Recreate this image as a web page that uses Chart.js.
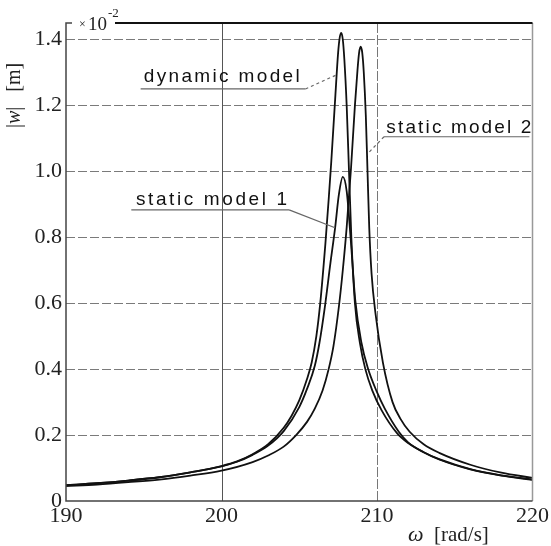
<!DOCTYPE html>
<html>
<head>
<title>Resonance curves</title>
<script src="https://cdn.jsdelivr.net/npm/chart.js"></script>
<style>
  body { margin: 0; background: #fff; }
</style>
</head>
<body>
<canvas id="ampChart" width="551" height="546"></canvas>
<script>
// omega in rad/s, |w| in units of 1e-2 m
const dynOmega = [190, 192, 194, 196, 198, 200, 201, 202, 203, 204, 204.5, 205, 205.5, 205.8, 206.1, 206.35, 206.68, 206.9, 207.06, 207.31, 207.5, 207.6, 207.7, 207.8, 207.9, 208.05, 208.2, 208.35, 208.58, 208.9, 209.25, 209.7, 210.3, 211.3, 212, 213, 214, 216, 218, 220];
const dynW = [0.048, 0.054, 0.062, 0.072, 0.087, 0.106, 0.12, 0.142, 0.172, 0.222, 0.258, 0.305, 0.37, 0.42, 0.5, 0.6, 0.78, 0.92, 1.03, 1.22, 1.36, 1.405, 1.42, 1.4, 1.34, 1.2, 1.0, 0.8, 0.6, 0.48, 0.4, 0.335, 0.275, 0.205, 0.176, 0.148, 0.127, 0.097, 0.078, 0.065];

const s1Omega = [190, 192, 194, 196, 198, 200, 201, 202, 203, 204, 205, 205.5, 206, 206.3, 206.65, 207, 207.31, 207.55, 207.8, 208.05, 208.3, 208.6, 209, 209.4, 210, 210.5, 211.4, 212, 213, 214, 216, 218, 220];
const s1W = [0.048, 0.054, 0.062, 0.072, 0.087, 0.105, 0.119, 0.14, 0.168, 0.212, 0.285, 0.34, 0.41, 0.48, 0.59, 0.72, 0.83, 0.93, 0.983, 0.94, 0.8, 0.61, 0.48, 0.405, 0.33, 0.28, 0.21, 0.178, 0.148, 0.126, 0.096, 0.077, 0.064];

const s2Omega = [190, 192, 194, 196, 198, 200, 202, 203, 204, 204.8, 205.5, 206, 206.5, 206.89, 207.2, 207.55, 207.8, 208.05, 208.33, 208.58, 208.75, 208.85, 208.95, 209.05, 209.15, 209.28, 209.39, 209.5, 209.65, 209.9, 210.38, 211, 211.5, 212.1, 213, 214, 216, 218, 220];
const s2W = [0.045, 0.05, 0.057, 0.065, 0.077, 0.092, 0.118, 0.138, 0.165, 0.2, 0.24, 0.28, 0.335, 0.4, 0.47, 0.59, 0.7, 0.83, 1.01, 1.2, 1.31, 1.36, 1.378, 1.36, 1.3, 1.17, 1.0, 0.83, 0.69, 0.57, 0.42, 0.3, 0.25, 0.21, 0.172, 0.146, 0.11, 0.086, 0.07];

const xTicks = [190, 200, 210, 220];
const yTicks = [0, 0.2, 0.4, 0.6, 0.8, 1.0, 1.2, 1.4];

// labels with their underline and leader line, in data coordinates
const notes = [
  { text: 'dynamic model', at: [195.0, 1.272], width: 156, under: [194.8, 205.4, 1.25], lead: [207.42, 1.293], dash: [3, 3] },
  { text: 'static model 2', at: [210.6, 1.117], width: 145, under: [210.45, 219.8, 1.105], lead: [209.45, 1.056], dash: [3, 3] },
  { text: 'static model 1', at: [194.5, 0.898], width: 151, under: [194.2, 204.35, 0.883], lead: [207.3, 0.829], dash: [] }
];

const pts = (xs, ys) => xs.map((v, i) => ({ x: v, y: ys[i] }));

function drawParts(ctx, parts, x, y) {
  let cx = x;
  parts.forEach(([t, f]) => {
    ctx.font = f;
    ctx.fillText(t, cx, y);
    cx += ctx.measureText(t).width;
  });
}

const decor = {
  id: 'decor',
  beforeDatasetsDraw(chart) {
    const { ctx, chartArea: a, scales: { x, y } } = chart;
    ctx.save();
    ctx.lineWidth = 1;
    // horizontal grid
    ctx.strokeStyle = '#7a7a7a';
    ctx.setLineDash([9, 3]);
    yTicks.forEach(v => {
      if (v === 0) return;
      const py = Math.round(y.getPixelForValue(v)) + 0.5;
      ctx.beginPath(); ctx.moveTo(a.left, py); ctx.lineTo(a.right, py); ctx.stroke();
    });
    // vertical grid
    xTicks.forEach(v => {
      if (v === 190 || v === 220) return;
      const px = Math.round(x.getPixelForValue(v)) + 0.5;
      ctx.strokeStyle = v === 200 ? '#555' : '#777';
      ctx.setLineDash(v === 200 ? [] : [10, 2]);
      ctx.beginPath(); ctx.moveTo(px, a.top); ctx.lineTo(px, a.bottom); ctx.stroke();
    });
    ctx.restore();
  },
  afterDatasetsDraw(chart) {
    const { ctx, chartArea: a, scales: { x, y } } = chart;
    ctx.save();
    // frame
    ctx.setLineDash([]);
    ctx.strokeStyle = '#999'; ctx.lineWidth = 1.5;
    ctx.beginPath(); ctx.moveTo(a.right, a.top); ctx.lineTo(a.right, a.bottom); ctx.stroke();
    ctx.strokeStyle = '#444';
    ctx.beginPath(); ctx.moveTo(a.left + 6, a.top); ctx.lineTo(a.left, a.top); ctx.lineTo(a.left, a.bottom); ctx.lineTo(a.right, a.bottom); ctx.stroke();
    ctx.strokeStyle = '#111'; ctx.lineWidth = 2;
    ctx.beginPath(); ctx.moveTo(a.left + 49, a.top); ctx.lineTo(a.right, a.top); ctx.stroke();

    // multiplier
    ctx.fillStyle = '#222';
    ctx.textAlign = 'left';
    ctx.textBaseline = 'alphabetic';
    ctx.font = '12px "Liberation Serif"';
    ctx.fillText('\u00d7', a.left + 13, a.top + 5);
    ctx.font = '19px "Liberation Serif"';
    ctx.fillText('10', a.left + 22, a.top + 7);
    ctx.font = '13px "Liberation Serif"';
    ctx.fillText('-2', a.left + 42, a.top - 6);

    // notes
    notes.forEach(n => {
      ctx.font = '19px "Liberation Sans"';
      ctx.letterSpacing = '0px';
      const w0 = ctx.measureText(n.text).width;
      ctx.letterSpacing = ((n.width - w0) / (n.text.length - 1)).toFixed(2) + 'px';
      ctx.fillStyle = '#111';
      ctx.fillText(n.text, x.getPixelForValue(n.at[0]), y.getPixelForValue(n.at[1]));
      ctx.letterSpacing = '0px';
      const uy = y.getPixelForValue(n.under[2]);
      const ux0 = x.getPixelForValue(n.under[0]);
      const ux1 = x.getPixelForValue(n.under[1]);
      ctx.strokeStyle = '#666'; ctx.lineWidth = 1.2; ctx.setLineDash([]);
      ctx.beginPath(); ctx.moveTo(ux0, uy); ctx.lineTo(ux1, uy); ctx.stroke();
      const sx = n.text === 'static model 2' ? ux0 : ux1;
      ctx.setLineDash(n.dash);
      ctx.beginPath(); ctx.moveTo(sx, uy); ctx.lineTo(x.getPixelForValue(n.lead[0]), y.getPixelForValue(n.lead[1])); ctx.stroke();
      ctx.setLineDash([]);
    });

    // axis titles
    ctx.fillStyle = '#222';
    ctx.save();
    ctx.translate(20, 128);
    ctx.rotate(-Math.PI / 2);
    drawParts(ctx, [['|', '20px "Liberation Serif"'], ['w', 'italic 20px "Liberation Serif"'], ['|', '20px "Liberation Serif"'], ['   [m]', '20px "Liberation Serif"']], 0, 0);
    ctx.restore();
    drawParts(ctx, [['\u03c9', 'italic 22px "Liberation Serif"'], ['  [rad/s]', '21px "Liberation Serif"']], 408, 541);
    ctx.restore();
  }
};

const ctx = document.getElementById('ampChart').getContext('2d');
const lineStyle = { borderColor: '#111', borderWidth: 1.8, pointRadius: 0, cubicInterpolationMode: 'monotone', fill: false };

new Chart(ctx, {
  type: 'line',
  data: {
    datasets: [
      { label: 'dynamic model', data: pts(dynOmega, dynW), ...lineStyle },
      { label: 'static model 1', data: pts(s1Omega, s1W), ...lineStyle },
      { label: 'static model 2', data: pts(s2Omega, s2W), ...lineStyle }
    ]
  },
  options: {
    responsive: false,
    animation: false,
    layout: { padding: { left: 0, top: 23, right: 13, bottom: 0 } },
    plugins: { legend: { display: false }, tooltip: { enabled: false } },
    scales: {
      x: {
        type: 'linear', min: 190, max: 220,
        grid: { display: false, drawTicks: false },
        border: { display: false },
        afterBuildTicks: s => { s.ticks = xTicks.map(v => ({ value: v })); },
        afterFit: s => { s.height = 45; },
        ticks: { font: { family: 'Liberation Serif', size: 22 }, color: '#222', padding: 2, maxRotation: 0, autoSkip: false, callback: v => String(v) }
      },
      y: {
        type: 'linear', min: 0, max: 1.45,
        grid: { display: false, drawTicks: false },
        border: { display: false },
        afterBuildTicks: s => { s.ticks = yTicks.map(v => ({ value: v })); },
        afterFit: s => { s.width = 66; },
        ticks: { font: { family: 'Liberation Serif', size: 22 }, color: '#222', padding: 4, autoSkip: false, callback: v => v === 0 ? '0' : v.toFixed(1) }
      }
    }
  },
  plugins: [decor]
});
</script>
</body>
</html>
